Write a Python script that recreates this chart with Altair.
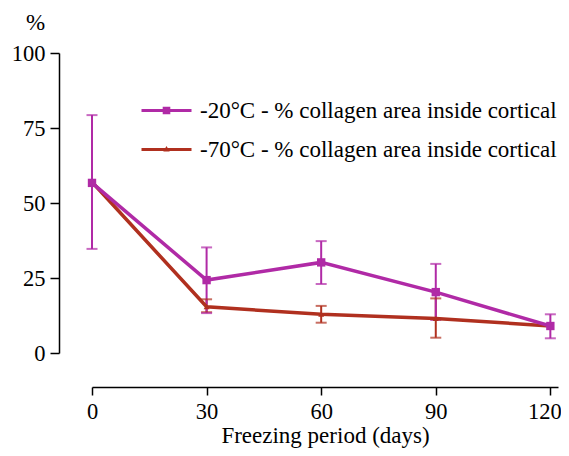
import altair as alt
import pandas as pd

days = [0, 30, 60, 90, 120]
series_names = ["-20°C - % collagen area inside cortical", "-70°C - % collagen area inside cortical"]
colors = ["#b02aa6", "#b0301f"]

m20_mean = [56.7, 24.3, 30.2, 20.3, 9.0]
m20_lo = [34.7, 13.3, 23.0, 11.0, 4.9]
m20_hi = [79.3, 35.2, 37.3, 29.7, 12.9]

m70_mean = [57.0, 15.4, 12.9, 11.5, 9.0]
m70_lo = [57.0, 13.6, 10.1, 5.1, 9.0]
m70_hi = [57.0, 17.9, 15.7, 18.2, 9.0]

rows = []
for i, d in enumerate(days):
    rows.append(dict(day=d, series=series_names[1], mean=m70_mean[i], lo=m70_lo[i], hi=m70_hi[i], order=0))
for i, d in enumerate(days):
    rows.append(dict(day=d, series=series_names[0], mean=m20_mean[i], lo=m20_lo[i], hi=m20_hi[i], order=1))
df = pd.DataFrame(rows)

FONT = "Liberation Serif, Times New Roman, Times, serif"

xs = alt.X("day:Q", scale=alt.Scale(domain=[0, 122], nice=False, zero=False),
           axis=alt.Axis(values=days, title="Freezing period (days)", offset=34, grid=False,
                         tickSize=8, labelPadding=5, labelFontSize=22.5, titleFontSize=23,
                         labelAlign={"condition": {"test": "datum.value == 120", "value": "right"}, "value": "center"},
                         labelOffset={"condition": {"test": "datum.value == 120", "value": 11}, "value": 0},
                         titleY=55, titleBaseline="alphabetic",
                         labelFont=FONT, titleFont=FONT, titleFontWeight="normal", domainColor="black",
                         tickColor="black", labelColor="black", titleColor="black", domainWidth=1.5, tickWidth=1.5,
                         labelFlush=False))
ys = alt.Y("mean:Q", scale=alt.Scale(domain=[0, 100], nice=False),
           axis=alt.Axis(values=[0, 25, 50, 75, 100], title="%", offset=33, grid=False,
                         tickSize=9, labelPadding=5, labelFontSize=22.5, titleFontSize=23,
                         labelFont=FONT, titleFont=FONT, titleFontWeight="normal", titleAngle=0,
                         titleX=-24, titleY=-31, titleAlign="center", titleBaseline="middle",
                         domainColor="black", tickColor="black", labelColor="black", titleColor="black",
                         domainWidth=1.5, tickWidth=1.5, labelFlush=False))

legend_paths = [
    "M-2.5,-0.16H2.5V0.16H-2.5Z M-0.38,-0.38H0.38V0.38H-0.38Z",
    "M-2.5,-0.16H2.5V0.16H-2.5Z M-0.32,0.2L0,-0.35L0.32,0.2Z",
]

legend = alt.Legend(title=None)
cscale = alt.Scale(domain=series_names, range=colors)
col = alt.Color("series:N", scale=cscale, legend=legend)

base = alt.Chart(df)

err = base.transform_filter("datum.hi > datum.lo").mark_rule(strokeWidth=2).encode(
    x=xs, y=alt.Y("lo:Q"), y2="hi:Q", color=col, detail="series:N")
cap_hi = base.transform_filter("datum.hi > datum.lo").mark_tick(orient="horizontal", size=11, thickness=2).encode(
    x=xs, y=alt.Y("hi:Q"), color=col)
cap_lo = base.transform_filter("datum.hi > datum.lo").mark_tick(orient="horizontal", size=11, thickness=2).encode(
    x=xs, y=alt.Y("lo:Q"), color=col)

line = base.mark_line(strokeWidth=3.5).encode(
    x=xs, y=ys, color=col, detail="series:N", order="order:Q")
pts_tri = base.transform_filter(alt.datum.series == series_names[1]).mark_point(
    filled=True, opacity=1, shape="triangle-up", size=35).encode(x=xs, y=ys, color=col)
pts_sq = base.transform_filter(alt.datum.series == series_names[0]).mark_point(
    filled=True, opacity=1, shape="square", size=70).encode(x=xs, y=ys, color=col)

leg_layer = base.transform_filter("datum.day < 0").mark_point(filled=True, opacity=1).encode(
    x=xs, y=ys, color=col,
    shape=alt.Shape("series:N", scale=alt.Scale(domain=series_names, range=legend_paths), legend=legend),
)

chart = alt.layer(err, cap_hi, cap_lo, line, pts_tri, pts_sq, leg_layer).properties(
    width=466, height=300,
    autosize=alt.AutoSizeParams(type="none"),
    padding={"left": 84, "top": 45, "right": 3, "bottom": 95},
).configure_view(stroke=None).configure_legend(
    orient="none", legendX=63, legendY=46, symbolSize=400, symbolOpacity=1, labelOffset=22,
    labelFont=FONT, labelFontSize=23, labelColor="black", rowPadding=15, padding=0,
    symbolStrokeWidth=0, labelLimit=600
)

chart.save("out.html", embed_options={"renderer": "svg", "actions": False})
